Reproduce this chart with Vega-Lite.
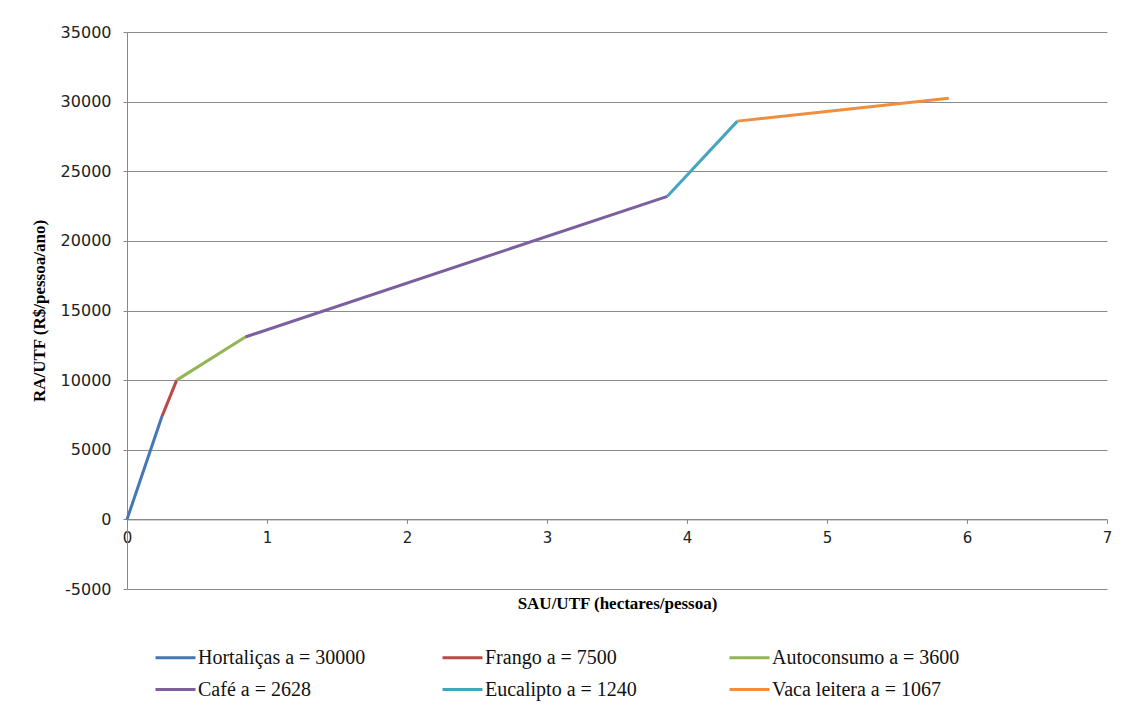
{
  "$schema": "https://vega.github.io/schema/vega-lite/v6.json",
  "width": 980,
  "height": 557,
  "autosize": {"type": "none"},
  "padding": {"left": 127, "top": 32, "right": 20, "bottom": 122},
  "background": "white",
  "config": {
    "view": {"stroke": null}
  },
  "data": {
    "values": [
      {"serie": "Hortaliças a = 30000", "x": 0, "y": 0},
      {"serie": "Hortaliças a = 30000", "x": 0.25, "y": 7400},
      {"serie": "Frango a = 7500", "x": 0.25, "y": 7400},
      {"serie": "Frango a = 7500", "x": 0.355, "y": 10000},
      {"serie": "Autoconsumo a = 3600", "x": 0.355, "y": 10000},
      {"serie": "Autoconsumo a = 3600", "x": 0.845, "y": 13100},
      {"serie": "Café a = 2628", "x": 0.845, "y": 13100},
      {"serie": "Café a = 2628", "x": 3.86, "y": 23200},
      {"serie": "Eucalipto a = 1240", "x": 3.86, "y": 23200},
      {"serie": "Eucalipto a = 1240", "x": 4.36, "y": 28600},
      {"serie": "Vaca leitera a = 1067", "x": 4.36, "y": 28600},
      {"serie": "Vaca leitera a = 1067", "x": 5.87, "y": 30250}
    ]
  },
  "mark": {"type": "line", "strokeWidth": 3},
  "encoding": {
    "x": {
      "field": "x", "type": "quantitative",
      "scale": {"domain": [0, 7], "nice": false, "zero": false},
      "axis": {
        "title": "SAU/UTF (hectares/pessoa)",
        "titleFont": "Liberation Serif", "titleFontSize": 17, "titleFontWeight": "bold", "titleColor": "#000",
        "titlePadding": 50,
        "offset": -69.6,
        "values": [0, 1, 2, 3, 4, 5, 6, 7],
        "labelFont": "DejaVu Sans", "labelFontSize": 15, "labelColor": "#222",
        "labelPadding": 7,
        "labelFlush": false,
        "domain": true, "domainColor": "#888",
        "ticks": true, "tickColor": "#888", "tickSize": 4,
        "grid": false
      }
    },
    "y": {
      "field": "y", "type": "quantitative",
      "scale": {"domain": [-5000, 35000], "nice": false, "zero": false},
      "axis": {
        "title": "RA/UTF (R$/pessoa/ano)",
        "titleFont": "Liberation Serif", "titleFontSize": 17, "titleFontWeight": "bold", "titleColor": "#000",
        "titlePadding": 12,
        "values": [-5000, 0, 5000, 10000, 15000, 20000, 25000, 30000, 35000],
        "labelExpr": "'' + datum.value",
        "labelFont": "DejaVu Sans", "labelFontSize": 16, "labelColor": "#222",
        "labelPadding": 12,
        "domain": true, "domainColor": "#888",
        "ticks": true, "tickColor": "#888", "tickSize": 4,
        "grid": true, "gridColor": "#8c8c8c", "gridWidth": 1
      }
    },
    "color": {
      "field": "serie", "type": "nominal",
      "sort": ["Hortaliças a = 30000", "Frango a = 7500", "Autoconsumo a = 3600", "Café a = 2628", "Eucalipto a = 1240", "Vaca leitera a = 1067"],
      "scale": {
        "domain": ["Hortaliças a = 30000", "Frango a = 7500", "Autoconsumo a = 3600", "Café a = 2628", "Eucalipto a = 1240", "Vaca leitera a = 1067"],
        "range": ["#4577B2", "#BA4A47", "#93B555", "#7B5F9E", "#45A5BE", "#EE8E3E"]
      },
      "legend": {
        "title": null,
        "orient": "none",
        "legendX": 27,
        "legendY": 604,
        "direction": "horizontal",
        "columns": 3,
        "gridAlign": "all",
        "columnPadding": 50,
        "rowPadding": -18,
        "symbolType": "stroke",
        "symbolSize": 1600,
        "symbolStrokeWidth": 3,
        "labelOffset": 1,
        "labelFont": "Liberation Serif",
        "labelFontSize": 20,
        "labelColor": "#111",
        "labelLimit": 300
      }
    }
  }
}
